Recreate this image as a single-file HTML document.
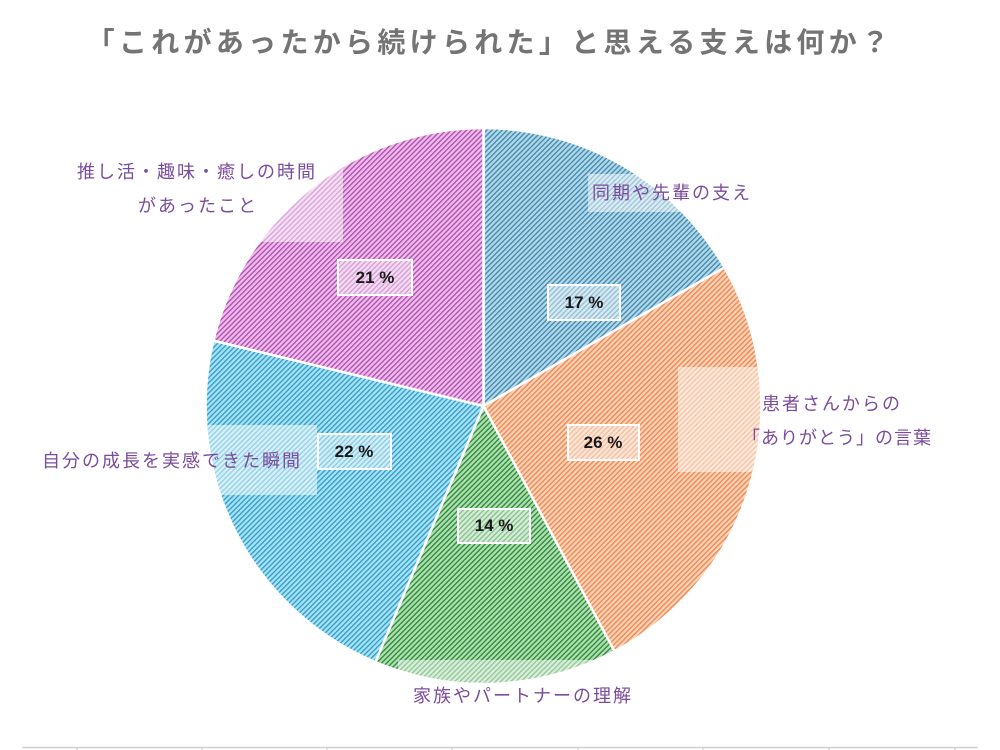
<!DOCTYPE html>
<html><head><meta charset="utf-8"><style>
html,body{margin:0;padding:0;background:#fff;}
body{width:1000px;height:750px;overflow:hidden;}
svg{display:block;}
</style></head><body>
<svg width="1000" height="750" viewBox="0 0 1000 750" xmlns="http://www.w3.org/2000/svg">
<defs>
<pattern id="pb" patternUnits="userSpaceOnUse" width="3.6" height="3.6" patternTransform="rotate(45)"><rect width="3.6" height="3.6" fill="#acdbf0"/><rect width="1.4" height="3.6" fill="#5088a6"/></pattern>
<pattern id="po" patternUnits="userSpaceOnUse" width="3.6" height="3.6" patternTransform="rotate(45)"><rect width="3.6" height="3.6" fill="#fcd2b8"/><rect width="1.4" height="3.6" fill="#ee8a52"/></pattern>
<pattern id="pg" patternUnits="userSpaceOnUse" width="3.6" height="3.6" patternTransform="rotate(45)"><rect width="3.6" height="3.6" fill="#ade2ad"/><rect width="1.4" height="3.6" fill="#358845"/></pattern>
<pattern id="pc" patternUnits="userSpaceOnUse" width="3.6" height="3.6" patternTransform="rotate(45)"><rect width="3.6" height="3.6" fill="#a2e4f9"/><rect width="1.4" height="3.6" fill="#3e9cc4"/></pattern>
<pattern id="pm" patternUnits="userSpaceOnUse" width="3.6" height="3.6" patternTransform="rotate(45)"><rect width="3.6" height="3.6" fill="#f4b8f1"/><rect width="1.4" height="3.6" fill="#a85aa8"/></pattern>
</defs>

<text x="490" y="52" text-anchor="middle" font-family="'Liberation Sans','Noto Sans CJK JP',sans-serif" font-weight="bold" font-size="28" letter-spacing="4.3" fill="#747474">「これがあったから続けられた」と思える支えは何か？</text>

<g stroke="#fff" stroke-width="2.5" stroke-linejoin="round">
<path id="s1" fill="url(#pb)"/>
<path id="s2" fill="url(#po)"/>
<path id="s3" fill="url(#pg)"/>
<path id="s4" fill="url(#pc)"/>
<path id="s5" fill="url(#pm)"/>
</g>

<clipPath id="pie"><circle cx="483.5" cy="406" r="278"/></clipPath>
<g clip-path="url(#pie)" fill="#fff" fill-opacity="0.5">
<rect x="588" y="174" width="170" height="38"/>
<rect x="678" y="367" width="120" height="105"/>
<rect x="398" y="660" width="200" height="40"/>
<rect x="208" y="425" width="109" height="70"/>
<rect x="230" y="165" width="113" height="77"/>
</g>

<g fill="#fff" fill-opacity="0.45" stroke="#fff" stroke-width="2">
<rect x="548" y="285" width="72" height="35"/>
<rect x="568" y="425" width="71" height="35"/>
<rect x="458" y="509" width="72" height="34"/>
<rect x="318" y="434" width="73" height="35"/>
<rect x="338" y="260" width="74" height="35"/>
</g>
<g font-family="'Liberation Sans',sans-serif" font-size="17" font-weight="bold" fill="#1a1a1a" text-anchor="middle">
<text x="584" y="308">17 %</text>
<text x="603" y="448">26 %</text>
<text x="494" y="531">14 %</text>
<text x="354" y="457">22 %</text>
<text x="375" y="283">21 %</text>
</g>

<g font-family="'Liberation Sans','Noto Sans CJK JP',sans-serif" font-size="18" letter-spacing="2" fill="#7a4c9e">
<text x="592" y="199">同期や先輩の支え</text>
<text x="762" y="410">患者さんからの</text>
<text x="742" y="444" letter-spacing="1">「ありがとう」の言葉</text>
<text x="413" y="702">家族やパートナーの理解</text>
<text x="42" y="467">自分の成長を実感できた瞬間</text>
<text x="77" y="178">推し活・趣味・癒しの時間</text>
<text x="138" y="212">があったこと</text>
</g>

<line x1="22" y1="747.5" x2="978" y2="747.5" stroke="#cfcfcf" stroke-width="1.5"/>
<g stroke="#cfcfcf" stroke-width="1.2">
<line x1="77" y1="747" x2="77" y2="750"/><line x1="202" y1="747" x2="202" y2="750"/>
<line x1="327" y1="747" x2="327" y2="750"/><line x1="452" y1="747" x2="452" y2="750"/>
<line x1="578" y1="747" x2="578" y2="750"/><line x1="703" y1="747" x2="703" y2="750"/>
<line x1="829" y1="747" x2="829" y2="750"/><line x1="955" y1="747" x2="955" y2="750"/>
</g>
</svg>
<script>
(function(){
var cx=483.5,cy=406,r=278;
var a=[0,60.1,151.9,202.9,283.6,360];
function pt(d){var t=d*Math.PI/180;return [cx+r*Math.sin(t),cy-r*Math.cos(t)];}
for(var i=0;i<5;i++){
var p0=pt(a[i]),p1=pt(a[i+1]);var large=(a[i+1]-a[i])>180?1:0;
var d="M"+cx+","+cy+" L"+p0[0].toFixed(2)+","+p0[1].toFixed(2)+" A"+r+","+r+" 0 "+large+" 1 "+p1[0].toFixed(2)+","+p1[1].toFixed(2)+" Z";
document.getElementById("s"+(i+1)).setAttribute("d",d);
}
})();
</script>
</body></html>
